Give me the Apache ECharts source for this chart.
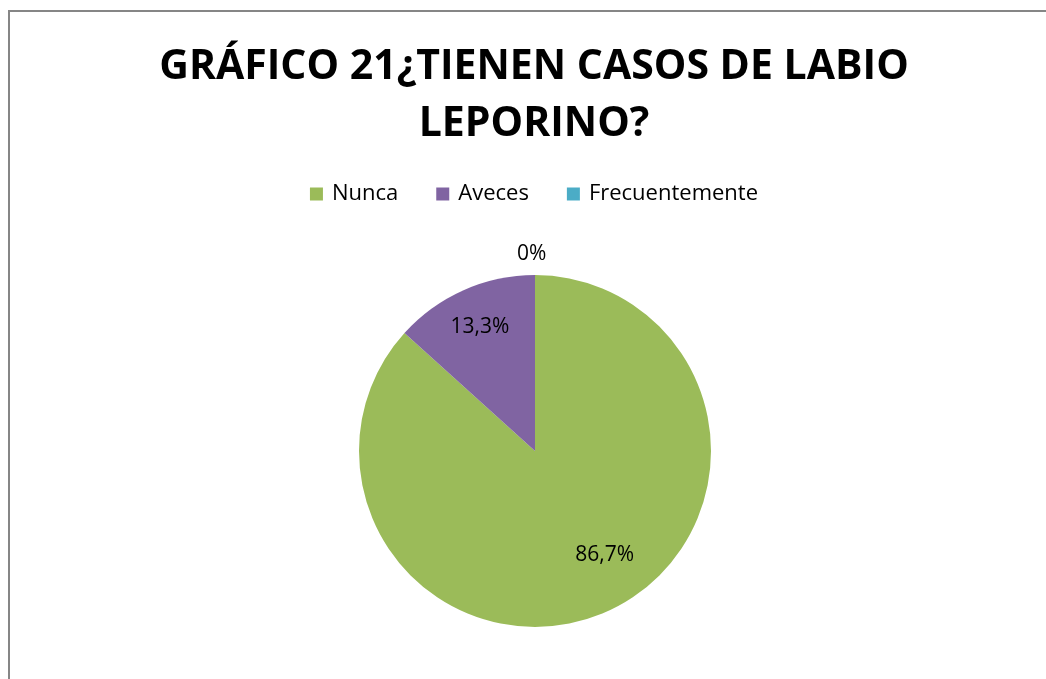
<!DOCTYPE html>
<html>
<head>
<meta charset="utf-8">
<script src="https://cdn.jsdelivr.net/npm/echarts@6/dist/echarts.min.js"></script>
<style>
  html, body { margin: 0; padding: 0; background: #fff; overflow: hidden; width: 1046px; height: 679px; }
  #frame {
    position: absolute; left: 8px; top: 10px; width: 1100px; height: 700px;
    border-left: 2px solid #868686; border-top: 2px solid #868686;
  }
  #info { position: absolute; left: 0; top: 0; width: 1068px; height: 679px; }
</style>
</head>
<body>
<div id="frame"></div>
<div id="info"></div>
<script>
  // datos del gráfico
  var categorias = ['Nunca', 'Aveces', 'Frecuentemente'];
  var porcentajes = [86.7, 13.3, 0];
  var colores = ['#9BBB59', '#8064A2', '#4BACC6'];
  var titulo = 'GRÁFICO 21¿TIENEN CASOS DE LABIO\nLEPORINO?';

  var cx = 535, cy = 451, radio = 176;
  var fuente = '"Open Sans", "Liberation Sans", sans-serif';
  // posición de etiquetas: fracción del radio y giro (grados) respecto al ángulo medio
  var etiqRadio = [0.71, 0.77, 1.12];
  var etiqGiro = [-10, 0, -1];

  var datos = categorias.map(function (c, i) {
    return { name: c, value: porcentajes[i], itemStyle: { color: colores[i] } };
  });

  // ángulos medios (sentido horario desde las 12)
  var total = porcentajes.reduce(function (a, b) { return a + b; }, 0);
  var medios = [], acum = 0;
  porcentajes.forEach(function (v) {
    medios.push((acum + v / 2) / total * 360);
    acum += v;
  });

  var info = echarts.init(document.getElementById('info'), null, { renderer: 'canvas' });
  info.setOption({
    backgroundColor: 'transparent',
    animation: false,
    title: {
      text: titulo,
      left: 'center',
      top: 34,
      textStyle: {
        fontFamily: fuente, fontWeight: 'bold', fontSize: 41, lineHeight: 57, color: '#000'
      }
    },
    legend: {
      data: categorias,
      top: 178,
      left: 'center',
      itemWidth: 13,
      itemHeight: 13,
      itemGap: 38,
      icon: 'rect',
      textStyle: { fontFamily: fuente, fontSize: 22, color: '#000', padding: [0, 0, 0, 4] }
    },
    series: [{
      type: 'pie',
      center: [cx, cy],
      radius: radio,
      startAngle: 90,
      clockwise: true,
      stillShowZeroSum: true,
      avoidLabelOverlap: false,
      label: {
        show: true,
        position: 'inside',
        fontFamily: fuente,
        fontSize: 21,
        color: '#000',
        formatter: function (p) {
          return String(p.value).replace('.', ',') + '%';
        }
      },
      labelLine: { show: false },
      labelLayout: function (p) {
        var i = p.dataIndex;
        var a = (medios[i] + etiqGiro[i]) * Math.PI / 180;
        var d = radio * etiqRadio[i];
        return {
          x: cx + d * Math.sin(a),
          y: cy - d * Math.cos(a),
          align: 'center',
          verticalAlign: 'middle'
        };
      },
      itemStyle: { borderWidth: 0 },
      emphasis: { disabled: true },
      data: datos
    }]
  });
</script>
</body>
</html>
